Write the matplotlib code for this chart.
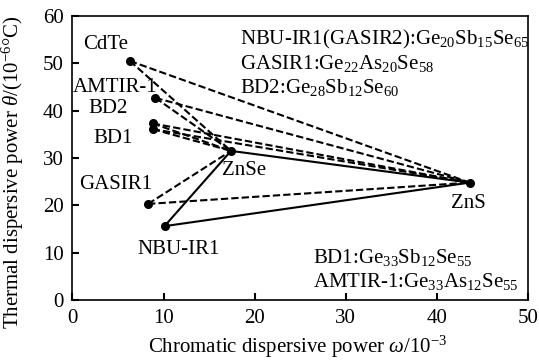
import matplotlib
matplotlib.use("Agg")
from matplotlib import pyplot as plt

plt.rcParams['font.family'] = 'Liberation Serif'
plt.rcParams['mathtext.fontset'] = 'custom'
plt.rcParams['mathtext.rm'] = 'Liberation Serif'
plt.rcParams['mathtext.it'] = 'Liberation Serif:italic'

# materials: chromatic dispersive power (1e-3), thermal dispersive power (1e-6/C)
materials = ["CdTe", "AMTIR-1", "BD2", "BD1", "GASIR1", "NBU-IR1"]
omega = [6.3, 9.1, 8.8, 8.8, 8.3, 10.1]
theta = [50.5, 42.7, 37.3, 36.1, 20.3, 15.6]

znse_omega, znse_theta = 17.4, 31.5
zns_omega, zns_theta = 43.6, 24.8

label_pos = {"CdTe": (3.6, 53.9), "AMTIR-1": (4.7, 44.9), "BD2": (3.9, 40.4),
             "BD1": (4.4, 34.2), "GASIR1": (4.7, 24.4), "NBU-IR1": (11.6, 10.7)}

fs = 15
fig, ax = plt.subplots(figsize=(5.39, 3.62), dpi=100)
fig.subplots_adjust(left=0.1345, right=0.9796, top=0.9558, bottom=0.1713)

dash = (0, (3.5, 1.5))
for name, w, t in zip(materials, omega, theta):
    ls = '-' if name == "NBU-IR1" else dash
    ax.plot([w, znse_omega], [t, znse_theta], color='black', lw=1.5, ls=ls)
    ax.plot([w, zns_omega], [t, zns_theta], color='black', lw=1.5, ls=ls)
    ax.text(*label_pos[name], name, fontsize=fs, ha='center', va='center')

ax.plot([znse_omega, zns_omega], [znse_theta, zns_theta], color='black', lw=1.5)
ax.plot(omega + [znse_omega, zns_omega], theta + [znse_theta, zns_theta],
        'o', color='black', ms=5.5, zorder=5)
ax.text(18.8, 27.3, "ZnSe", fontsize=fs, ha='center', va='center')
ax.text(43.4, 20.4, "ZnS", fontsize=fs, ha='center', va='center')

notes_top = ["NBU-IR1(GASIR2):Ge$_{20}$Sb$_{15}$Se$_{65}$",
             "GASIR1:Ge$_{22}$As$_{20}$Se$_{58}$",
             "BD2:Ge$_{28}$Sb$_{12}$Se$_{60}$"]
for i, s in enumerate(notes_top):
    ax.text(18.4, 53.9 - 5.1 * i, s, fontsize=fs, ha='left', va='baseline')
notes_bot = ["BD1:Ge$_{33}$Sb$_{12}$Se$_{55}$",
             "AMTIR-1:Ge$_{33}$As$_{12}$Se$_{55}$"]
for i, s in enumerate(notes_bot):
    ax.text(26.4, 7.75 - 4.95 * i, s, fontsize=fs, ha='left', va='baseline')

ax.set_xlim(0, 50)
ax.set_ylim(0, 60)
ax.set_xticks(range(0, 51, 10))
ax.set_yticks(range(0, 61, 10))
ax.tick_params(direction='in', length=5, width=1.5, labelsize=fs, pad=6.5)
for sp in ax.spines.values():
    sp.set_linewidth(1.2)
ax.set_xlabel(r"Chromatic dispersive power $\it{\omega}$/10$^{-3}$", fontsize=fs)
ax.set_ylabel(r"Thermal dispersive power $\it{\theta}$/(10$^{-6}$°C)", fontsize=fs)
ax.xaxis.set_label_coords(0.494, -0.12)
ax.xaxis.label.set_va('top')
ax.yaxis.set_label_coords(-0.102, 0.45)

plt.savefig("out.png", dpi=100)
